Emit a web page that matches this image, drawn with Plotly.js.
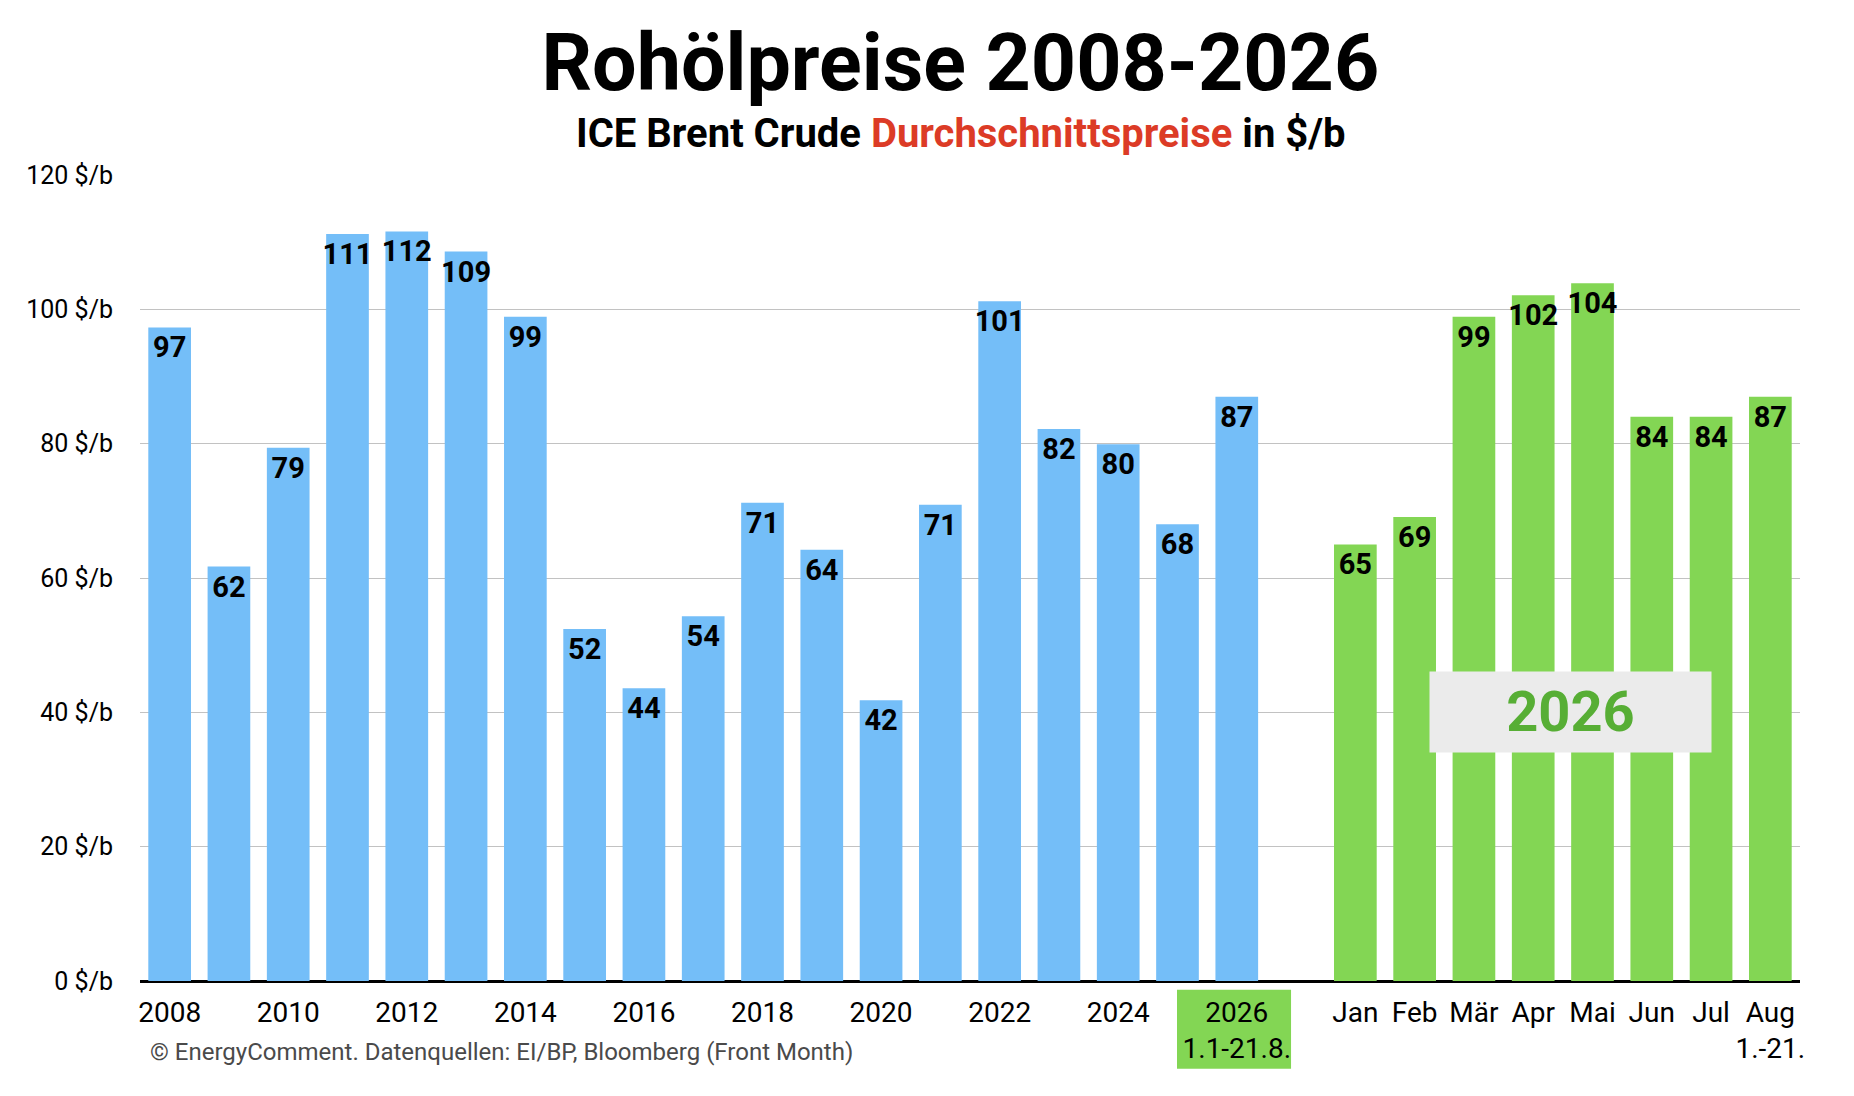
<!DOCTYPE html>
<html>
<head>
<meta charset="utf-8">
<script src="https://cdn.plot.ly/plotly-3.0.1.min.js"></script>
<style>
  html, body { margin: 0; padding: 0; background: #fff; }
  #chart { width: 1854px; height: 1096px; }
</style>
</head>
<body>
<div id="chart"></div>
<script>
// Jahresdurchschnitte ICE Brent ($/b)
var years = ['2008', '2009', '2010', '2011', '2012', '2013', '2014', '2015', '2016', '2017',
             '2018', '2019', '2020', '2021', '2022', '2023', '2024', '2025', '2026'];
var yearValues = [97.3, 61.7, 79.4, 111.2, 111.6, 108.6, 98.9, 52.4, 43.6, 54.3,
                  71.2, 64.2, 41.8, 70.9, 101.2, 82.2, 79.9, 68.0, 87.0];

// Monatsdurchschnitte 2026
var months = ['Jan', 'Feb', 'Mär', 'Apr', 'Mai', 'Jun', 'Jul', 'Aug'];
var monthValues = [65.0, 69.1, 98.9, 102.1, 103.9, 84.0, 84.0, 87.0];

var gap = [' '];

var tickVals = ['2008', '2010', '2012', '2014', '2016', '2018', '2020', '2022', '2024', '2026',
                'Jan', 'Feb', 'Mär', 'Apr', 'Mai', 'Jun', 'Jul', 'Aug'];
var tickText = ['2008', '2010', '2012', '2014', '2016', '2018', '2020', '2022', '2024', '2026<br>1.1-21.8.',
                'Jan', 'Feb', 'Mär', 'Apr', 'Mai', 'Jun', 'Jul', 'Aug<br>1.-21.'];

var yTicks = [0, 20, 40, 60, 80, 100, 120];
var yTickText = ['0 $/b', '20 $/b', '40 $/b', '60 $/b', '80 $/b', '100 $/b', '120 $/b'];

var blue = '#74BEF8';
var green = '#83D654';

var labelFont = {family: 'Roboto', size: 29, color: '#000', weight: 'bold'};

var traceYears = {
  x: years,
  y: yearValues,
  type: 'bar',
  marker: {color: blue},
  texttemplate: '<b>%{y:.0f}</b>',
  textposition: 'inside',
  insidetextanchor: 'end',
  constraintext: 'none',
  textangle: 0,
  insidetextfont: labelFont,
  hoverinfo: 'x+y'
};

var traceMonths = {
  x: months,
  y: monthValues,
  type: 'bar',
  marker: {color: green},
  texttemplate: '<b>%{y:.0f}</b>',
  textposition: 'inside',
  insidetextanchor: 'end',
  constraintext: 'none',
  textangle: 0,
  insidetextfont: labelFont,
  hoverinfo: 'x+y'
};

var layout = {
  width: 1854,
  height: 1096,
  paper_bgcolor: '#fff',
  plot_bgcolor: '#fff',
  showlegend: false,
  barmode: 'overlay',
  bargap: 0.28,
  margin: {l: 140, r: 54, t: 175, b: 115},
  font: {family: 'Roboto', color: '#000'},
  title: {
    text: '<b>Rohölpreise 2008-2026</b>',
    font: {family: 'Roboto', size: 79, color: '#000'},
    x: 0.518, xref: 'container', xanchor: 'center',
    y: 0.943, yref: 'container', yanchor: 'middle'
  },
  xaxis: {
    type: 'category',
    categoryorder: 'array',
    categoryarray: years.concat(gap, months),
    range: [-0.5, 27.5],
    tickmode: 'array',
    tickvals: tickVals,
    ticktext: tickText,
    ticks: '',
    ticklabelstandoff: 12,
    tickfont: {family: 'Roboto', size: 28, color: '#000'},
    showgrid: false,
    showline: false,
    fixedrange: true
  },
  yaxis: {
    range: [0, 120],
    tickmode: 'array',
    tickvals: yTicks,
    ticktext: yTickText,
    tickfont: {family: 'Roboto', size: 25, color: '#000'},
    ticks: '',
    ticklabelstandoff: 26,
    showgrid: true,
    gridcolor: '#C2C2C2',
    gridwidth: 1,
    zeroline: true,
    zerolinecolor: '#000',
    zerolinewidth: 3,
    fixedrange: true
  },
  shapes: [{
    // grüner Hintergrund hinter dem Label "2026 / 1.1-21.8."
    type: 'rect',
    layer: 'below',
    xref: 'paper', yref: 'paper',
    x0: 0.6247, x1: 0.6934,
    y0: -0.109, y1: -0.011,
    fillcolor: green,
    line: {width: 0}
  }],
  annotations: [
    {
      text: '<b>ICE Brent Crude <span style="color:#DC3B26">Durchschnittspreise</span> in $/b</b>',
      xref: 'paper', yref: 'paper',
      x: 0.4946, y: 1.051,
      xanchor: 'center', yanchor: 'middle',
      showarrow: false,
      font: {family: 'Roboto', size: 40, color: '#000'}
    },
    {
      text: '<b>2026</b>',
      xref: 'paper', yref: 'y',
      x: 0.862, y: 40,
      xanchor: 'center', yanchor: 'middle',
      showarrow: false,
      width: 273, height: 72,
      bgcolor: '#EBEBEB',
      borderpad: 4,
      font: {family: 'Roboto', size: 56, color: '#57AE35'}
    },
    {
      text: '© EnergyComment. Datenquellen: EI/BP, Bloomberg (Front Month)',
      xref: 'paper', yref: 'paper',
      x: 0.005, y: -0.088,
      xanchor: 'left', yanchor: 'middle',
      showarrow: false,
      font: {family: 'Roboto', size: 24, color: '#4A4A4A'}
    }
  ]
};

Plotly.newPlot('chart', [traceYears, traceMonths], layout, {displayModeBar: false, staticPlot: true});
</script>
</body>
</html>
